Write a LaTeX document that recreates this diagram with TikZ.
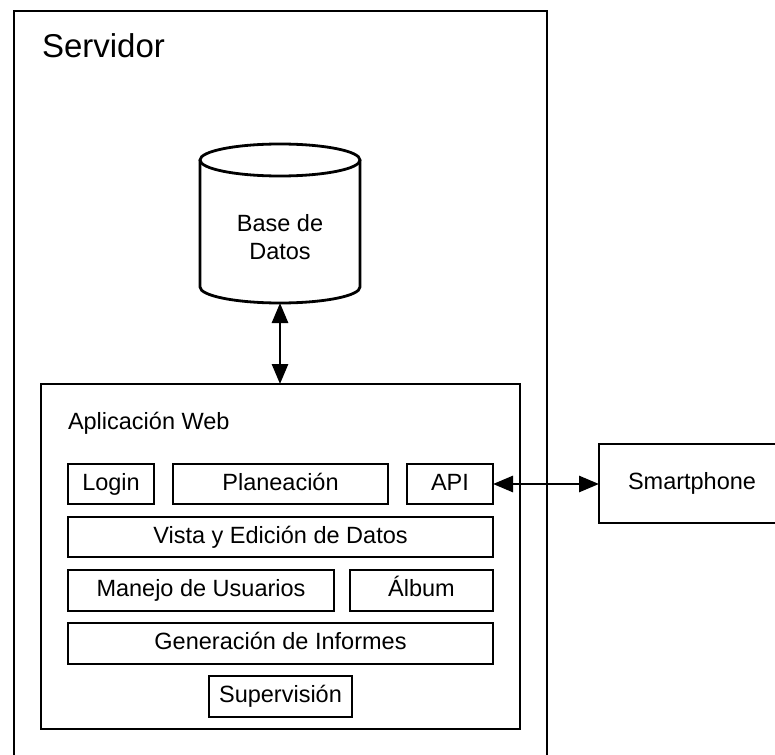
\documentclass[tikz,border=0pt]{standalone}
\usepackage{fontspec}
\setmainfont{Liberation Sans}
\usetikzlibrary{arrows.meta}

\begin{document}
\begin{tikzpicture}[
    x=1pt, y=-1pt,
    line width=2.8pt,
    every node/.style={inner sep=0pt, outer sep=0pt},
    txt/.style={font=\fontsize{23.5}{28}\selectfont},
    frame/.style={draw, rectangle},
    module/.style={draw, rectangle, txt, text height=17pt, text depth=5pt},
    link/.style={{Triangle[length=20pt,width=16pt]}-{Triangle[length=20pt,width=16pt]}, line width=2.8pt}
  ]
  \clip (0,0) rectangle (775,754);
  \fill[white] (0,0) rectangle (775,754);

  % server frame and title
  \node[frame, minimum width=533pt, minimum height=759pt] (srv) at (280.5,390.5) {};
  \node[anchor=base west, font=\fontsize{33}{40}\selectfont] (srvtitle) at (42,58) {Servidor};

  % database cylinder
  \draw (280,160) ellipse [x radius=80, y radius=16];
  \draw (200,160) -- (200,287)
        .. controls (200,295.8) and (235.8,303) .. (280,303)
        .. controls (324.2,303) and (360,295.8) .. (360,287)
        -- (360,160);
  \node[txt, align=center] (db) at (280,237) {Base de\\Datos};
  \coordinate (dbbot) at (280,303);

  % web application frame
  \node[frame, minimum width=479pt, minimum height=345pt] (app) at (280.5,556.5) {};
  \node[txt, anchor=base west] (apptitle) at (68,429) {Aplicación Web};

  % modules
  \node[module, minimum width=86pt,  minimum height=40pt] (login) at (111,484)   {Login};
  \node[module, minimum width=215pt, minimum height=40pt] (plan)  at (280.5,484) {Planeación};
  \node[module, minimum width=86pt,  minimum height=40pt] (api)   at (450,484)   {API};
  \node[module, minimum width=425pt, minimum height=40pt] (vista) at (280.5,537) {Vista y Edición de Datos};
  \node[module, minimum width=266pt, minimum height=41pt] (users) at (201,590.5) {Manejo de Usuarios};
  \node[module, minimum width=143pt, minimum height=41pt] (album) at (421.5,590.5) {Álbum};
  \node[module, minimum width=425pt, minimum height=41pt] (inf)   at (280.5,643.5) {Generación de Informes};
  \node[module, minimum width=143pt, minimum height=41pt] (sup)   at (280.5,696.5) {Supervisión};

  % smartphone
  \node[frame, txt, minimum width=186pt, minimum height=79pt] (phone) at (692,483.5) {Smartphone};

  % connections
  \draw[link] (dbbot) -- (app.north -| dbbot);
  \draw[link] (api.east) -- (api.east -| phone.west);
\end{tikzpicture}
\end{document}
